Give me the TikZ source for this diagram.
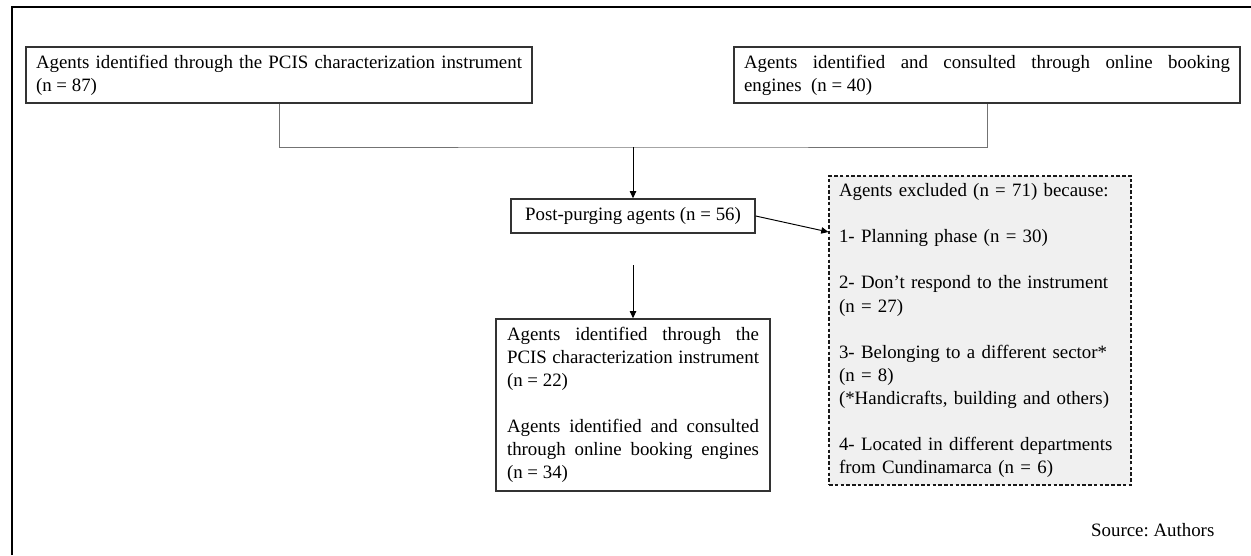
\documentclass[tikz,border=0pt]{standalone}
\usepackage{fontspec}
\setmainfont{Liberation Serif}
\usetikzlibrary{calc,arrows.meta}

\begin{document}
\begin{tikzpicture}[x=0.625pt,y=-0.625pt,
	every node/.style={font=\fontsize{11.8}{14.4}\selectfont},
	box/.style={draw=black!80, line width=0.9pt, inner ysep=2pt, align=justify},
	exclbox/.style={draw=black!90, dash pattern=on 2.2pt off 1.4pt, line width=0.7pt, fill=black!6, inner xsep=6.25pt, align=left},
	conn/.style={draw=black!55, line width=0.6pt},
	arr/.style={draw=black, line width=0.6pt, -{Triangle[length=4.5pt,width=4pt]}}]
	%%%%% START %%%%%
	
	\useasboundingbox (0,0) rectangle (1251,555);
	\draw[line width=1.3pt] (11.7,555) -- (11.7,7.3) -- (1251,7.3);
	
	% sources
	\node[box, text width=303.75pt, inner xsep=6.25pt, minimum height=35pt] (ag87) at (279,75)
		{Agents identified through the PCIS characterization instrument\linebreak (n = 87)};
	\node[box, text width=303.75pt, inner xsep=6.25pt, minimum height=35pt] (ag40) at (987,75)
		{Agents identified and consulted through online booking\linebreak engines\ \ (n = 40)};
	
	\coordinate (join) at (633,147);
	\draw[conn] (ag87.south) |- (join) -| (ag40.south);
	
	% purging
	\node[box, minimum width=152.5pt, minimum height=21.25pt, align=center] (purge) at (633,216)
		{Post-purging\ agents\ (n = 56)};
	\draw[arr] (join) -- (purge.north);
	
	\node[exclbox, text width=176.25pt, minimum height=193.1pt] (excl) at (980,330.5)
		{Agents excluded (n = 71) because:\\[14.4pt]
		1- Planning phase (n = 30)\\[14.4pt]
		2- Don't respond to the instrument\\(n = 27)\\[14.4pt]
		3- Belonging to a different sector*\\(n = 8)\\(*Handicrafts, building and others)\\[14.4pt]
		4- Located in different departments\\from Cundinamarca (n = 6)};
	\draw[arr] (purge.east) -- (excl.north west |- 0,232);
	
	% final sample
	\node[box, text width=157.5pt, inner xsep=6.875pt, minimum height=107.5pt] (final) at (633,405)
		{Agents identified through the\linebreak PCIS characterization instrument\linebreak (n = 22)\\[14.4pt]
		Agents identified and consulted\linebreak through online booking engines\linebreak (n = 34)};
	\coordinate (gap) at (633,265);
	\draw[arr] (gap) -- (final.north);
	
	\node[anchor=east] (src) at (1220,530) {Source:\ Authors};
	
	%%%%% END %%%%%
\end{tikzpicture}
\end{document}
